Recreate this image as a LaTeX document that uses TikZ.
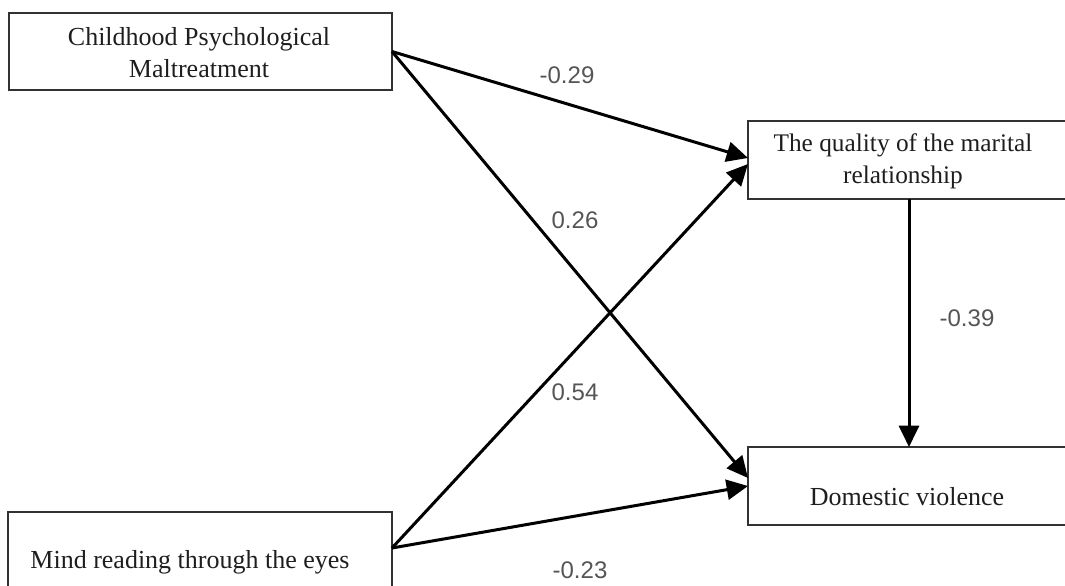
\documentclass[tikz,border=0pt]{standalone}
\usepackage{fontspec}
\setmainfont{Liberation Serif}
\newfontfamily\lblfont{Liberation Sans}
\usetikzlibrary{arrows.meta,calc}
\definecolor{boxline}{RGB}{50,50,50}
\definecolor{lblgray}{RGB}{85,85,85}
\definecolor{txtdark}{RGB}{30,30,30}
\tikzset{
  boxnode/.style={draw=boxline, line width=1.5pt, fill=none, inner sep=0pt, outer sep=0pt},
  boxtext/.style={font=\fontsize{19.5}{24}\selectfont, text=txtdark, align=center, inner sep=0pt},
  conn/.style={line width=2.25pt, -{Triangle[length=16pt,width=15pt]}},
  coef/.style={font=\lblfont\fontsize{18}{20}\selectfont, text=lblgray, inner sep=0pt}
}
\begin{document}
\begin{tikzpicture}[x=0.75pt, y=-0.75pt]
\useasboundingbox (0,0) rectangle (1065,586);
% boxes
\node[boxnode, minimum width=383*0.75pt, minimum height=77*0.75pt] (A) at (200.5,51.5) {};
\node[boxnode, minimum width=322*0.75pt, minimum height=78*0.75pt] (B) at (909,160) {};
\node[boxnode, minimum width=322*0.75pt, minimum height=78*0.75pt] (C) at (909,486) {};
\node[boxnode, minimum width=384*0.75pt, minimum height=80*0.75pt] (D) at (200,552) {};
% texts
\node[boxtext] (tA) at (199,52.5) {Childhood Psychological\\Maltreatment};
\node[boxtext, font=\fontsize{19}{24}\selectfont] (tB) at (903,161) {The quality of the marital\\relationship};
\node[boxtext] (tC) at (907,497) {Domestic violence};
\node[boxtext] (tD) at (190,562) {Mind reading through the eyes};
% connectors
\coordinate (Bup) at ($(B.west)+(0,-2)$);
\coordinate (Bdn) at ($(B.west)+(0,4)$);
\coordinate (Cup) at ($(C.west)+(0,-8)$);
\coordinate (Dout) at ($(D.east)+(0,-4)$);
\draw[conn] (A.east) -- (Bup);
\draw[conn] (A.east) -- (Cup);
\draw[conn] (Dout) -- (Bdn);
\draw[conn] (Dout) -- (C.west);
\draw[conn] (B.south) -- (C.north);
% coefficients
\node[coef] (c1) at (567,75) {-0.29};
\node[coef] (c2) at (575,220) {0.26};
\node[coef] (c3) at (575,392) {0.54};
\node[coef] (c4) at (580,570) {-0.23};
\node[coef] (c5) at (967,318) {-0.39};
\end{tikzpicture}
\end{document}
